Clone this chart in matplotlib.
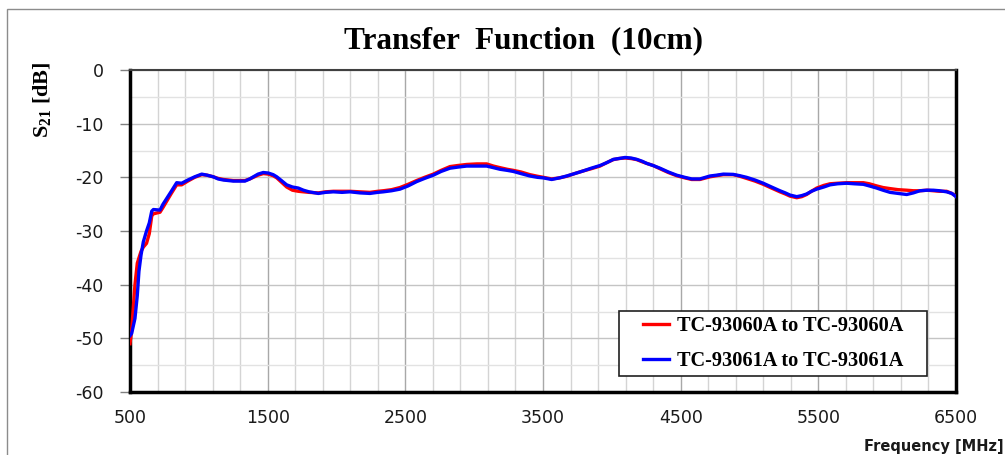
import numpy as np
import matplotlib
matplotlib.use("Agg")
import matplotlib.pyplot as plt
from matplotlib.patches import Rectangle

plt.rcParams["axes.unicode_minus"] = False

freq_mhz = [500, 512, 536, 553, 565, 580, 597, 620, 640, 658, 670, 718, 740, 770, 800,
            839, 875, 920, 970, 1021, 1060, 1105, 1140, 1178, 1250, 1335, 1370, 1396,
            1430, 1468, 1505, 1540, 1566, 1600, 1638, 1680, 1723, 1760, 1800, 1868,
            1920, 1977, 2040, 2098, 2170, 2243, 2300, 2340, 2400, 2461, 2520, 2582,
            2640, 2703, 2760, 2824, 2880, 2946, 3020, 3091, 3140, 3188, 3240, 3284,
            3340, 3405, 3460, 3502, 3563, 3620, 3672, 3730, 3793, 3850, 3914, 3960,
            4011, 4050, 4096, 4140, 4181, 4220, 4253, 4300, 4350, 4410, 4471, 4530,
            4580, 4640, 4713, 4760, 4810, 4882, 4930, 4979, 5040, 5100, 5160, 5221,
            5260, 5294, 5343, 5380, 5415, 5450, 5488, 5540, 5585, 5640, 5706, 5760,
            5827, 5870, 5924, 5970, 6021, 6080, 6142, 6190, 6238, 6290, 6335, 6380,
            6432, 6470, 6500]

s21_93060a = [-51.0, -48.5, -40.0, -36.0, -35.0, -33.8, -33.0, -32.3, -30.5, -27.2, -26.8,
              -26.5, -25.6, -24.3, -23.0, -21.4, -21.4, -20.7, -20.0, -19.5, -19.6, -19.9,
              -20.2, -20.4, -20.6, -20.6, -20.3, -20.0, -19.6, -19.3, -19.4, -19.7, -20.1,
              -20.9, -21.8, -22.4, -22.6, -22.7, -22.8, -22.9, -22.7, -22.6, -22.6, -22.6,
              -22.7, -22.8, -22.6, -22.5, -22.3, -21.9, -21.3, -20.6, -20.0, -19.4, -18.7,
              -18.0, -17.8, -17.6, -17.5, -17.5, -17.9, -18.2, -18.5, -18.7, -19.0, -19.5,
              -19.8, -20.0, -20.3, -20.1, -19.8, -19.3, -18.8, -18.4, -17.9, -17.3, -16.7,
              -16.5, -16.4, -16.5, -16.7, -17.1, -17.4, -17.8, -18.4, -19.1, -19.7, -20.1,
              -20.4, -20.4, -19.9, -19.7, -19.5, -19.5, -19.8, -20.2, -20.7, -21.3, -22.0,
              -22.7, -23.1, -23.5, -23.8, -23.6, -23.2, -22.6, -22.0, -21.5, -21.2, -21.1,
              -21.0, -21.0, -21.0, -21.2, -21.6, -21.9, -22.1, -22.3, -22.4, -22.5, -22.5,
              -22.4, -22.5, -22.6, -22.6, -23.0, -23.5]

s21_93061a = [-49.5, -49.1, -46.3, -42.0, -37.5, -34.5, -32.0, -30.0, -28.5, -26.3, -26.0,
              -26.1, -25.0, -23.8, -22.6, -21.0, -21.1, -20.5, -19.9, -19.4, -19.6, -19.9,
              -20.3, -20.5, -20.7, -20.7, -20.3, -19.9, -19.4, -19.1, -19.2, -19.5, -19.9,
              -20.6, -21.4, -21.8, -22.0, -22.4, -22.7, -23.0, -22.8, -22.7, -22.8, -22.7,
              -22.9, -23.0, -22.8, -22.7, -22.5, -22.2, -21.6, -20.8, -20.2, -19.6, -18.9,
              -18.3, -18.1, -17.9, -17.9, -17.9, -18.2, -18.5, -18.7, -18.9, -19.3, -19.75,
              -20.0, -20.1, -20.4, -20.1, -19.75, -19.3, -18.8, -18.3, -17.8, -17.3, -16.65,
              -16.5, -16.3, -16.4, -16.65, -17.0, -17.4, -17.8, -18.3, -19.0, -19.6, -20.0,
              -20.3, -20.3, -19.75, -19.6, -19.4, -19.45, -19.7, -20.0, -20.5, -21.1, -21.8,
              -22.5, -22.9, -23.3, -23.6, -23.4, -23.1, -22.6, -22.2, -21.8, -21.4, -21.2,
              -21.1, -21.2, -21.3, -21.6, -22.0, -22.4, -22.8, -23.0, -23.2, -22.9, -22.5,
              -22.4, -22.4, -22.5, -22.7, -23.0, -23.6]

series_labels = ["TC-93060A to TC-93060A", "TC-93061A to TC-93061A"]
x_ticks = [500, 1500, 2500, 3500, 4500, 5500, 6500]
y_ticks = [-60, -50, -40, -30, -20, -10, 0]

W, H = 1005, 455
fig = plt.figure(figsize=(W / 100, H / 100), dpi=100)
fig.patch.set_facecolor("white")

# outer border (extends beyond right/bottom edge)
fig.patches.append(Rectangle((7 / W, -0.2), 1.5, (H - 9) / H + 0.2,
                             transform=fig.transFigure, fill=False,
                             edgecolor="#8c8c8c", linewidth=1.0))

ax = fig.add_axes([130 / W, 1 - 392 / H, (956 - 130) / W, (392 - 70) / H])
ax.set_xlim(500, 6500)
ax.set_ylim(-60, 0)

ax.set_xticks(x_ticks)
ax.set_xticks(np.arange(500, 6501, 200), minor=True)
ax.set_yticks(y_ticks)
ax.set_yticks(np.arange(-60, 1, 5), minor=True)

ax.grid(which="major", axis="x", color="#a8a8a8", linewidth=1.0, zorder=0)
ax.grid(which="minor", axis="x", color="#d4d4d4", linewidth=1.0, zorder=0)
ax.grid(which="major", axis="y", color="#c4c4c4", linewidth=1.0, zorder=0)
ax.grid(which="minor", axis="y", color="#e2e2e2", linewidth=1.0, zorder=0)
ax.set_axisbelow(True)

ax.tick_params(axis="x", which="both", length=0, pad=12, labelsize=12.5,
               labelcolor="#1a1a1a")
ax.tick_params(axis="y", which="major", length=7, width=1, color="#808080",
               pad=12, labelsize=12.5, labelcolor="#1a1a1a")
ax.tick_params(axis="y", which="minor", length=0)

for side in ["left", "bottom", "right"]:
    ax.spines[side].set_linewidth(2.5)
    ax.spines[side].set_color("black")
ax.spines["top"].set_linewidth(1.5)
ax.spines["top"].set_color("#404040")

l1, = ax.plot(freq_mhz, s21_93060a, color="#ff0000", linewidth=2.4, zorder=3,
              label=series_labels[0])
l2, = ax.plot(freq_mhz, s21_93061a, color="#0000ff", linewidth=2.4, zorder=3.1,
              label=series_labels[1])

# legend box
ax.add_patch(Rectangle(((619 - 130) / 826, (392 - 376) / 322),
                       (927 - 619) / 826, (376 - 311) / 322,
                       transform=ax.transAxes, facecolor="white",
                       edgecolor="#202020", linewidth=1.2, zorder=4))
leg = ax.legend(handles=[l1, l2], loc="center",
                bbox_to_anchor=((773 - 130) / 826, (392 - 343.5) / 322),
                frameon=False, handlelength=1.3, handletextpad=0.35,
                labelspacing=0.7, borderpad=0.2,
                prop={"family": "Liberation Serif", "weight": "bold", "size": 14.6})
leg.set_zorder(5)

fig.text(523 / W, 1 - 41 / H, "Transfer  Function  (10cm)",
         family="Liberation Serif", weight="bold", fontsize=22.5,
         ha="center", va="center")
fig.text(42 / W, 1 - 100 / H, r"S$\mathregular{_{21}}$ [dB]",
         family="Liberation Serif", weight="bold", fontsize=16, rotation=90,
         ha="center", va="center")
fig.text(1004 / W, 1 - 446 / H, "Frequency [MHz]", family="DejaVu Sans",
         weight="bold", fontsize=10.5, ha="right", va="center", color="#1a1a1a")

fig.savefig("out.png", dpi=100, facecolor="white")
